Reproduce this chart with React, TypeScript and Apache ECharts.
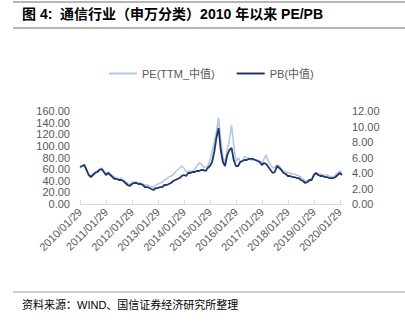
import React, { useEffect, useRef } from "react";
import * as echarts from "echarts";

const startYear = 2010;
const monthCount = 122;
const categories: string[] = [];
for (let i = 0; i < monthCount; i++) {
  const y = startYear + Math.floor(i / 12);
  const m = (i % 12) + 1;
  categories.push(`${y}/${String(m).padStart(2, "0")}/29`);
}

const peValues = [
  61.9, 65.4, 68.8, 60.2, 51.6, 48.2, 51.6, 55.1, 56.8, 60.2, 61.9, 56.8,
  51.6, 55.1, 51.6, 48.2, 46.5, 44.7, 43.0, 44.7, 41.3, 37.9, 36.1, 32.7,
  37.9, 37.9, 37.9, 36.1, 36.1, 34.4, 32.7, 32.7, 31.0, 29.2, 29.2, 32.7,
  34.4, 36.1, 37.9, 41.3, 43.0, 46.5, 48.2, 49.9, 55.1, 58.5, 61.9, 65.4,
  61.9, 55.1, 56.8, 56.8, 55.1, 60.2, 65.4, 70.5, 68.8, 63.7, 63.7, 65.4,
  75.7, 89.5, 106.7, 123.9, 148.0, 110.1, 80.9, 70.5, 92.9, 110.1, 135.9, 101.5,
  72.3, 79.1, 74.0, 72.3, 82.6, 79.1, 79.1, 75.7, 75.7, 75.7, 75.7, 74.0,
  70.5, 77.4, 84.3, 74.0, 67.1, 61.9, 63.7, 67.1, 65.4, 60.2, 56.8, 55.1,
  53.3, 53.3, 51.6, 51.6, 49.9, 48.2, 46.5, 43.0, 39.6, 39.6, 41.3, 43.0,
  49.9, 53.3, 51.6, 51.6, 49.9, 49.9, 49.9, 48.2, 46.5, 46.5, 49.9, 53.3,
  56.8, 55.1,
];

const pbValues = [
  4.77, 4.9, 5.03, 4.39, 3.74, 3.48, 3.74, 4.0, 4.13, 4.39, 4.52, 4.13,
  3.74, 4.0, 3.74, 3.48, 3.23, 3.23, 3.1, 3.1, 2.97, 2.71, 2.45, 2.32,
  2.58, 2.71, 2.71, 2.58, 2.58, 2.45, 2.19, 2.19, 2.06, 1.94, 1.81, 2.06,
  2.06, 2.19, 2.19, 2.45, 2.45, 2.58, 2.71, 2.97, 3.1, 3.23, 3.35, 3.61,
  3.74, 3.61, 4.0, 4.0, 4.13, 4.13, 4.26, 4.26, 4.39, 4.39, 4.26, 4.65,
  4.9, 5.42, 6.71, 8.52, 9.81, 6.97, 5.42, 4.9, 6.32, 6.97, 7.23, 5.68,
  4.9, 4.9, 5.42, 5.55, 5.68, 5.68, 5.81, 5.81, 5.81, 5.68, 5.55, 5.42,
  5.03, 5.29, 5.16, 4.77, 4.39, 4.0, 4.13, 4.9, 4.65, 4.39, 4.0, 3.87,
  3.61, 3.61, 3.48, 3.48, 3.35, 3.35, 3.1, 2.97, 2.71, 2.84, 3.1, 3.1,
  3.74, 4.0, 3.74, 3.61, 3.61, 3.48, 3.48, 3.35, 3.35, 3.35, 3.48, 3.74,
  4.0, 3.74,
];

const titleText = "图 4:  通信行业（申万分类）2010 年以来 PE/PB";
const sourceText = "资料来源：WIND、国信证券经济研究所整理";
const peName = "PE(TTM_中值)";
const pbName = "PB(中值)";

const FONT = "'Liberation Sans', Arial, 'Noto Sans CJK SC', sans-serif";
const GRAY = "#595959";

export default function App() {
  const ref = useRef<HTMLDivElement>(null);
  useEffect(() => {
    if (!ref.current) return;
    const chart = echarts.init(ref.current, null, { renderer: "svg" });
    chart.setOption({
      animation: false,
      backgroundColor: "#ffffff",
      textStyle: { fontFamily: FONT },
      legend: {
        top: 63,
        left: 104,
        itemWidth: 28,
        itemHeight: 2,
        itemGap: 22,
        icon: "rect",
        textStyle: { color: GRAY, fontSize: 11, fontFamily: FONT },
        data: [peName, pbName],
      },
      grid: { left: 80, right: 63, top: 111, bottom: 120, containLabel: false },
      xAxis: {
        type: "category",
        data: categories,
        boundaryGap: false,
        axisLine: { lineStyle: { color: "#d9d9d9" } },
        axisTick: { interval: 11, length: 4, inside: true, lineStyle: { color: "#d9d9d9" } },
        axisLabel: {
          interval: 11,
          rotate: 45,
          color: GRAY,
          fontSize: 11,
          margin: 6,
          fontFamily: FONT,
        },
        splitLine: { show: false },
      },
      yAxis: [
        {
          type: "value",
          min: 0,
          max: 160,
          interval: 20,
          axisLine: { show: false },
          axisTick: { show: false },
          splitLine: { show: false },
          axisLabel: {
            color: GRAY,
            fontSize: 11,
            margin: 10,
            fontFamily: FONT,
            formatter: (v: number) => v.toFixed(2),
          },
        },
        {
          type: "value",
          min: 0,
          max: 12,
          interval: 2,
          position: "right",
          axisLine: { show: false },
          axisTick: { show: false },
          splitLine: { show: false },
          axisLabel: {
            color: GRAY,
            fontSize: 11,
            margin: 10,
            fontFamily: FONT,
            formatter: (v: number) => v.toFixed(2),
          },
        },
      ],
      series: [
        {
          name: peName,
          type: "line",
          yAxisIndex: 0,
          data: peValues,
          showSymbol: false,
          symbol: "none",
          lineStyle: { color: "#b4c7e7", width: 1.6 },
          itemStyle: { color: "#b4c7e7" },
        },
        {
          name: pbName,
          type: "line",
          yAxisIndex: 1,
          data: pbValues,
          showSymbol: false,
          symbol: "none",
          lineStyle: { color: "#1f3864", width: 1.8 },
          itemStyle: { color: "#1f3864" },
        },
      ],
      graphic: [
        { type: "line", shape: { x1: 13, y1: 2, x2: 405, y2: 2 }, style: { stroke: "#9e9e9e", lineWidth: 1.5 } },
        { type: "line", shape: { x1: 13, y1: 28, x2: 405, y2: 28 }, style: { stroke: "#9e9e9e", lineWidth: 1.5 } },
        {
          type: "text",
          left: 22,
          top: 7,
          style: { text: titleText, font: `bold 14px ${FONT}`, fill: "#000000" },
        },
        { type: "line", shape: { x1: 13, y1: 292, x2: 405, y2: 292 }, style: { stroke: "#9e9e9e", lineWidth: 1 } },
        {
          type: "text",
          left: 22,
          top: 299,
          style: { text: sourceText, font: `11px ${FONT}`, fill: "#000000" },
        },
      ],
    });
    return () => chart.dispose();
  }, []);
  return (
    <div
      ref={ref}
      style={{ position: "absolute", left: 0, top: 0, width: 405, height: 324 }}
    />
  );
}
